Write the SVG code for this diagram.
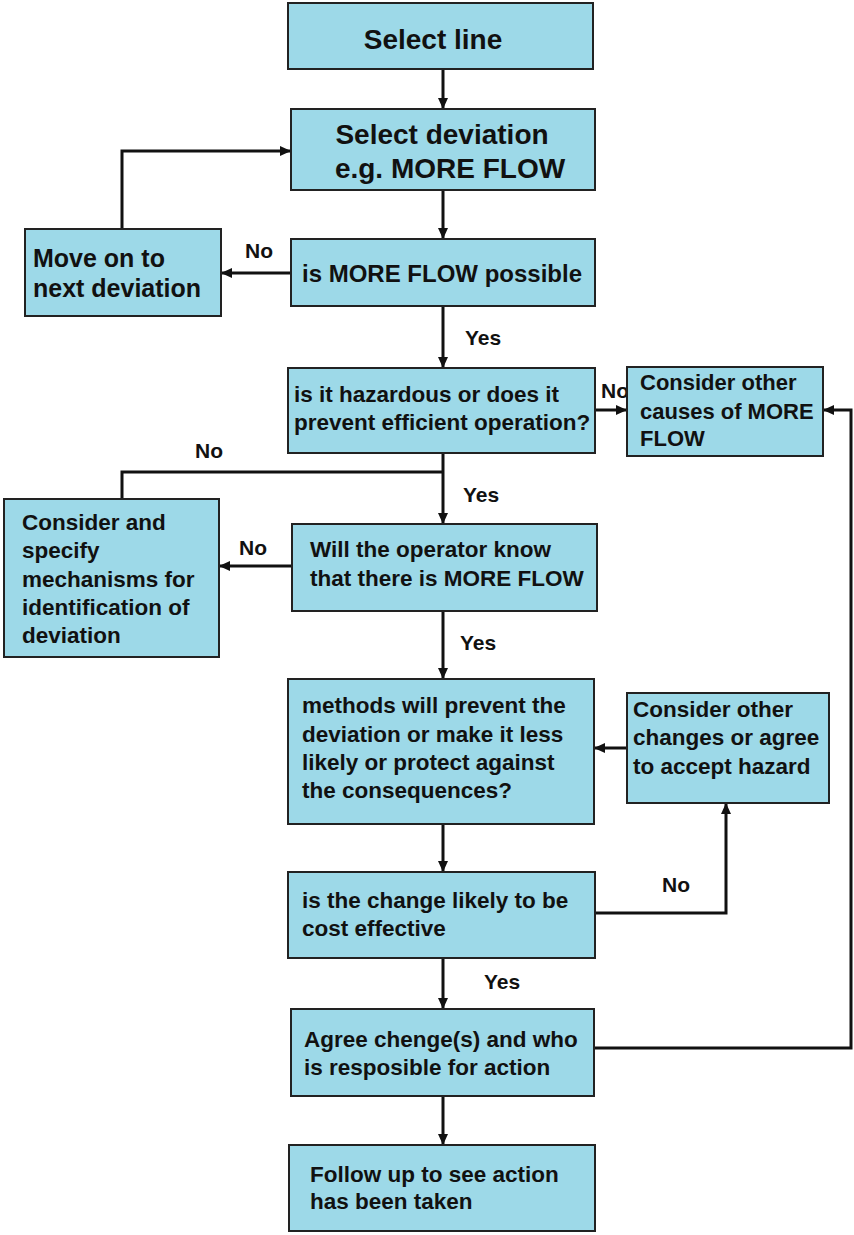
<svg xmlns="http://www.w3.org/2000/svg" width="854" height="1235" viewBox="0 0 854 1235">
<style>
.box{fill:#9DD9E8;stroke:#222;stroke-width:2}
.t{font-family:"Liberation Sans",Arial,sans-serif;font-weight:bold;fill:#111;font-size:22.5px}
.big{font-size:28px}
.m{font-size:24px}
.lbl{font-family:"Liberation Sans",Arial,sans-serif;font-weight:bold;fill:#111;font-size:21px}
.c{fill:none;stroke:#111;stroke-width:3}
</style>
<defs>
<marker id="ah" markerWidth="11" markerHeight="10" refX="11" refY="5" orient="auto" markerUnits="userSpaceOnUse"><path d="M0,0 L11,5 L0,10 z" fill="#111"/></marker>
</defs>
<rect width="854" height="1235" fill="#fff"/>
<g id="labels">
<text class="lbl" x="465" y="345">Yes</text>
<text class="lbl" x="463" y="502">Yes</text>
<text class="lbl" x="460" y="650">Yes</text>
<text class="lbl" x="484" y="989">Yes</text>
<text class="lbl" x="245" y="258">No</text>
<text class="lbl" x="195" y="458">No</text>
<text class="lbl" x="239" y="555">No</text>
<text class="lbl" x="601" y="398">No</text>
<text class="lbl" x="662" y="892">No</text>
</g>
<g id="connectors">
<path class="c" d="M443,69 V109" marker-end="url(#ah)"/>
<path class="c" d="M443,190 V239" marker-end="url(#ah)"/>
<path class="c" d="M291,273 H221" marker-end="url(#ah)"/>
<path class="c" d="M122,229 V151 H291" marker-end="url(#ah)"/>
<path class="c" d="M443,306 V368" marker-end="url(#ah)"/>
<path class="c" d="M595,410 H627" marker-end="url(#ah)"/>
<path class="c" d="M443,453 V524" marker-end="url(#ah)"/>
<path class="c" d="M443,472 H122 V499"/>
<path class="c" d="M292,566 H219" marker-end="url(#ah)"/>
<path class="c" d="M443,611 V679" marker-end="url(#ah)"/>
<path class="c" d="M627,748 H594" marker-end="url(#ah)"/>
<path class="c" d="M443,824 V872" marker-end="url(#ah)"/>
<path class="c" d="M595,913 H726 V803" marker-end="url(#ah)"/>
<path class="c" d="M443,958 V1009" marker-end="url(#ah)"/>
<path class="c" d="M594,1048 H851 V410 H823" marker-end="url(#ah)"/>
<path class="c" d="M443,1096 V1145" marker-end="url(#ah)"/>
</g>
<g id="n-select-line">
<rect class="box" x="288" y="3" width="305" height="66"/>
<text class="t big" x="433" y="49" text-anchor="middle">Select line</text>
</g>
<g id="n-select-deviation">
<rect class="box" x="291" y="109" width="304" height="81"/>
<text class="t big" x="442" y="144" text-anchor="middle">Select deviation</text>
<text class="t big" x="450" y="178" text-anchor="middle">e.g. MORE FLOW</text>
</g>
<g id="n-move-on">
<rect class="box" x="25" y="229" width="196" height="87"/>
<text class="t" x="33" y="267" style="font-size:25px">Move on to</text>
<text class="t" x="33" y="297" style="font-size:25px">next deviation</text>
</g>
<g id="n-possible">
<rect class="box" x="291" y="239" width="304" height="67"/>
<text class="t m" x="302" y="282">is MORE FLOW possible</text>
</g>
<g id="n-hazardous">
<rect class="box" x="288" y="368" width="307" height="85"/>
<text class="t" x="294" y="402">is it hazardous or does it</text>
<text class="t" x="294" y="430">prevent efficient operation?</text>
</g>
<g id="n-other-causes">
<rect class="box" x="627" y="367" width="196" height="89"/>
<text class="t" x="640" y="390" style="font-size:22px">Consider other</text>
<text class="t" x="640" y="419" style="font-size:22px">causes of MORE</text>
<text class="t" x="640" y="446" style="font-size:22px">FLOW</text>
</g>
<g id="n-consider-specify">
<rect class="box" x="4" y="499" width="215" height="158"/>
<text class="t" x="22" y="530">Consider and</text>
<text class="t" x="22" y="558">specify</text>
<text class="t" x="22" y="587">mechanisms for</text>
<text class="t" x="22" y="615">identification of</text>
<text class="t" x="22" y="643">deviation</text>
</g>
<g id="n-operator">
<rect class="box" x="292" y="524" width="305" height="87"/>
<text class="t" x="310" y="557">Will the operator know</text>
<text class="t" x="310" y="586">that there is MORE FLOW</text>
</g>
<g id="n-methods">
<rect class="box" x="288" y="679" width="306" height="145"/>
<text class="t" x="302" y="713">methods will prevent the</text>
<text class="t" x="302" y="742">deviation or make it less</text>
<text class="t" x="302" y="770">likely or protect against</text>
<text class="t" x="302" y="798">the consequences?</text>
</g>
<g id="n-other-changes">
<rect class="box" x="627" y="693" width="202" height="110"/>
<text class="t" x="633" y="717">Consider other</text>
<text class="t" x="633" y="745">changes or agree</text>
<text class="t" x="633" y="774">to accept hazard</text>
</g>
<g id="n-cost">
<rect class="box" x="288" y="872" width="307" height="86"/>
<text class="t" x="302" y="908">is the change likely to be</text>
<text class="t" x="302" y="936">cost effective</text>
</g>
<g id="n-agree">
<rect class="box" x="291" y="1009" width="303" height="87"/>
<text class="t" x="304" y="1047">Agree chenge(s) and who</text>
<text class="t" x="304" y="1075">is resposible for action</text>
</g>
<g id="n-follow">
<rect class="box" x="289" y="1145" width="306" height="86"/>
<text class="t" x="310" y="1182">Follow up to see action</text>
<text class="t" x="310" y="1209">has been taken</text>
</g>
</svg>
